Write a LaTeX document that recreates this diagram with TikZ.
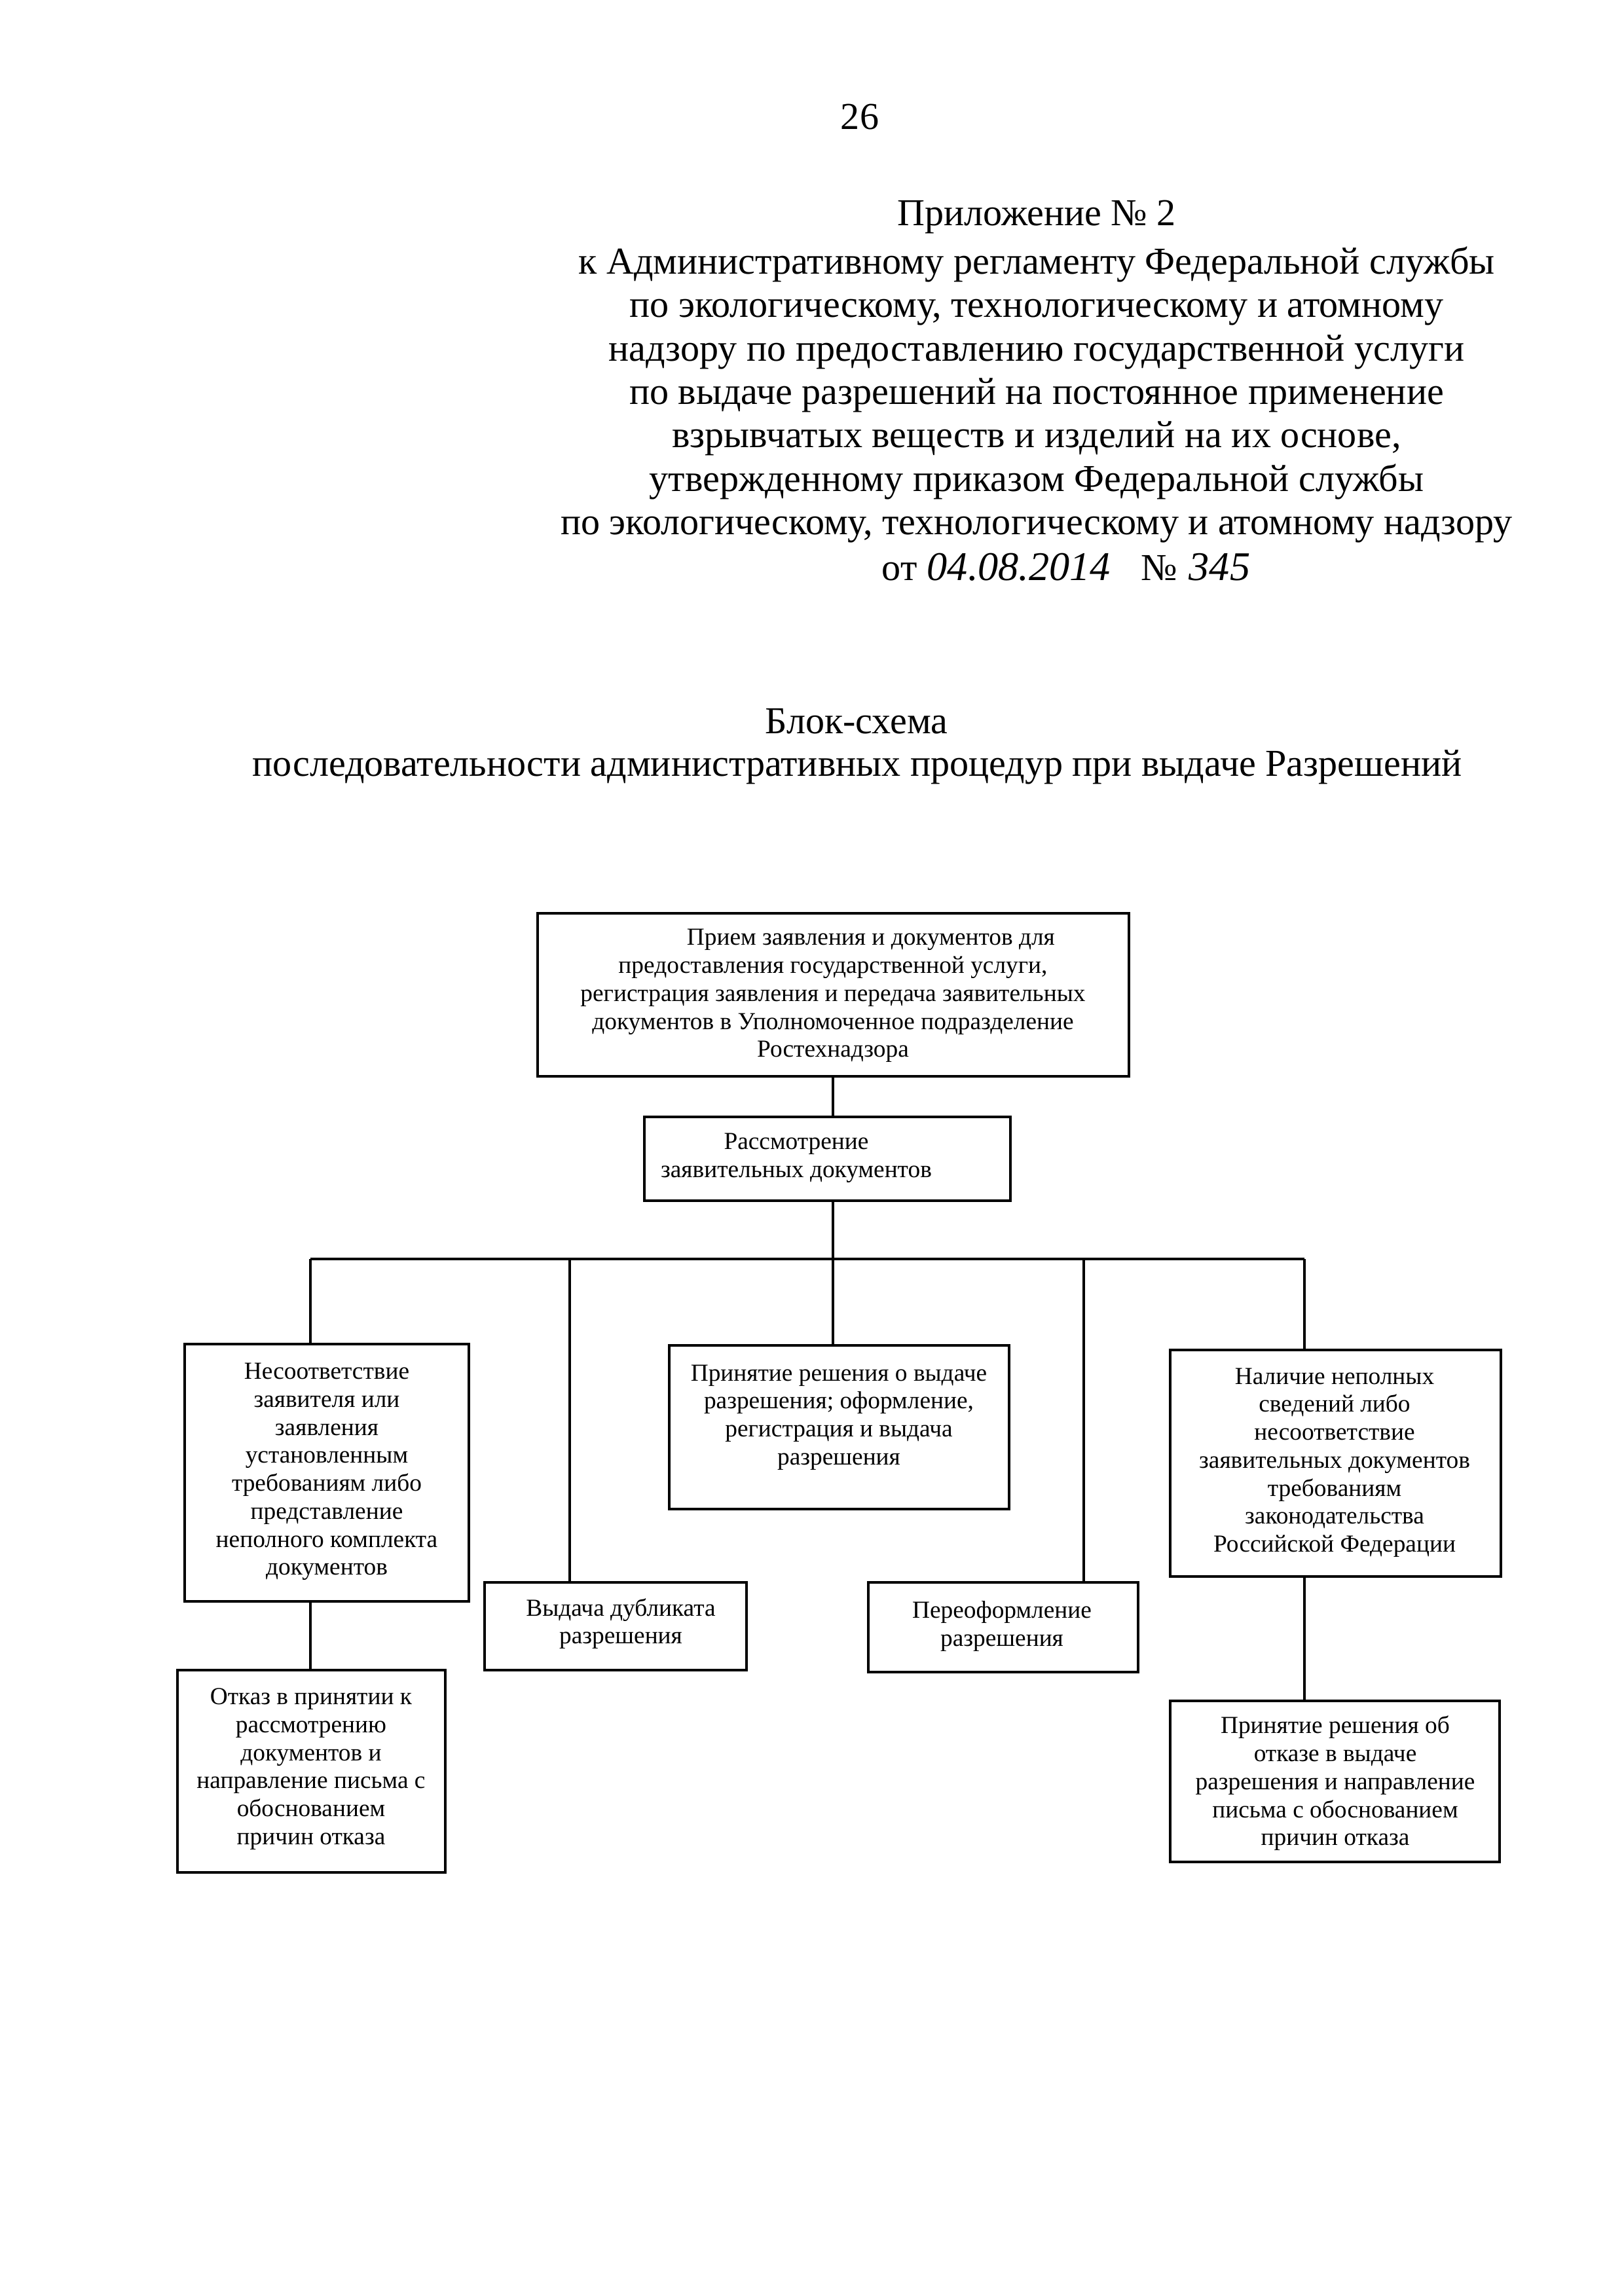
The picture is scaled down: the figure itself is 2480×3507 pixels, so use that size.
\documentclass[tikz,border=0pt]{standalone}
\usepackage{fontspec}
\setmainfont{Liberation Serif}
\usetikzlibrary{fit}
\begin{document}
\begin{tikzpicture}[x=0.084677mm,y=-0.084677mm,
  box/.style={draw, line width=0.9pt, inner sep=0pt},
  btxt/.style={align=center, inner sep=0pt, font=\fontsize{9}{10.3}\selectfont},
  hdr/.style={align=center, inner sep=0pt, font=\fontsize{14}{16}\selectfont},
  hand/.style={inner sep=0pt, anchor=base west, font=\fontsize{15}{15}\selectfont\itshape},
  conn/.style={line width=0.8pt}]
\fill[white] (0,0) rectangle (2480,3507);
\useasboundingbox (0,0) rectangle (2480,3507);

% header
\node[hdr] (pg) at (1313,179) {26};
\node[hdr] (app) at (1583,331) {Приложение № 2};
\node[hdr] (reg) at (1583,603) {к Административному регламенту Федеральной службы\\
по экологическому, технологическому и атомному\\
надзору по предоставлению государственной услуги\\
по выдаче разрешений на постоянное применение\\
взрывчатых веществ и изделий на их основе,\\
утвержденному приказом Федеральной службы\\
по экологическому, технологическому и атомному надзору};
\node[hdr, anchor=base west] (ot) at (1346,886) {от};
\node[hand] (date) at (1415,886) {04.08.2014};
\node[hdr, anchor=base west] (no) at (1742,886) {№};
\node[hand] (num) at (1815,886) {345};

% title
\node[hdr] (tt1) at (1308,1102) {Блок-схема};
\node[hdr] (tt2) at (1309,1172) {последовательности административных процедур при выдаче Разрешений};

% boxes
\node[box, fit={(821,1395) (1724,1644)}] (b1) {};
\node[box, fit={(984,1706) (1543,1834)}] (b2) {};
\node[box, fit={(282,2053) (716,2446)}] (bN) {};
\node[box, fit={(271,2551) (680,2860)}] (bO) {};
\node[box, fit={(740,2417) (1140,2551)}] (bD) {};
\node[box, fit={(1022,2055) (1541,2305)}] (bP) {};
\node[box, fit={(1326,2417) (1738,2554)}] (bR) {};
\node[box, fit={(1787,2062) (2292,2408)}] (bH) {};
\node[box, fit={(1787,2598) (2290,2844)}] (bX) {};

% box texts
\node[btxt] (t1) at (1272,1521) {\hspace*{9.8mm}Прием заявления и документов для\\
предоставления государственной услуги,\\
регистрация заявления и передача заявительных\\
документов в Уполномоченное подразделение\\
Ростехнадзора};
\node[btxt] (t2) at (1216,1769) {Рассмотрение\\заявительных документов};
\node[btxt] (tN) at (499,2248) {Несоответствие\\заявителя или\\заявления\\установленным\\требованиям либо\\представление\\неполного комплекта\\документов};
\node[btxt] (tO) at (475,2702) {Отказ в принятии к\\рассмотрению\\документов и\\направление письма с\\обоснованием\\причин отказа};
\node[btxt] (tD) at (948,2480) {Выдача дубликата\\разрешения};
\node[btxt] (tP) at (1281,2165) {Принятие решения о выдаче\\разрешения; оформление,\\регистрация и выдача\\разрешения};
\node[btxt] (tR) at (1530,2484) {Переоформление\\разрешения};
\node[btxt] (tH) at (2038,2234) {Наличие неполных\\сведений либо\\несоответствие\\заявительных документов\\требованиям\\законодательства\\Российской Федерации};
\node[btxt] (tX) at (2039,2724) {Принятие решения об\\отказе в выдаче\\разрешения и направление\\письма с обоснованием\\причин отказа};

% connectors
\coordinate (c1) at (1272,1923);
\coordinate (barL) at (474,1923);
\coordinate (barR) at (1992,1923);
\coordinate (v2) at (870,1923);
\coordinate (v4) at (1655,1923);
\draw[conn] (b1.south -| c1) -- (b2.north -| c1);
\draw[conn] (b2.south -| c1) -- (c1);
\draw[conn] (barL) -- (barR);
\draw[conn] (barL) -- (barL |- bN.north);
\draw[conn] (v2) -- (v2 |- bD.north);
\draw[conn] (c1) -- (c1 |- bP.north);
\draw[conn] (v4) -- (v4 |- bR.north);
\draw[conn] (barR) -- (barR |- bH.north);
\draw[conn] (barL |- bN.south) -- (barL |- bO.north);
\draw[conn] (barR |- bH.south) -- (barR |- bX.north);
\end{tikzpicture}
\end{document}
